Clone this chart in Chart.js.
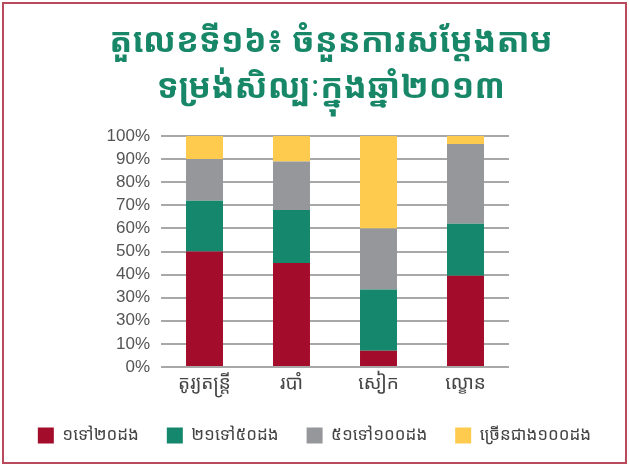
<!DOCTYPE html>
<html>
<head>
<meta charset="utf-8">
<script src="https://cdn.jsdelivr.net/npm/chart.js@4.4.0/dist/chart.umd.min.js"></script>
<style>
    html, body { margin: 0; padding: 0; background: #fff; }
    #frame {
        position: absolute; left: 2px; top: 2px;
        width: 621px; height: 458px;
        border: 2px solid #b84a5c;
    }
    #wrap { position: absolute; left: 0; top: 0; width: 621px; height: 458px; }
</style>
</head>
<body>
<div id="frame"><div id="wrap"><canvas id="chart"></canvas></div></div>
<script>
const titleLines = ['តួលេខទី១៦៖ ចំនួនការសម្តែងតាម', 'ទម្រង់សិល្បៈក្នុងឆ្នាំ២០១៣'];
const categories = ['តូរ្យតន្ត្រី', 'របាំ', 'សៀក', 'ល្ខោន'];
const seriesNames = ['១ទៅ២០ដង', '២១ទៅ៥០ដង', '៥១ទៅ១០០ដង', 'ច្រើនជាង១០០ដង'];
const series1to20 = [50, 45, 7, 39.5];
const series21to50 = [22, 23, 26.5, 22.5];
const series51to100 = [18, 21, 26.5, 34.5];
const seriesOver100 = [10, 11, 40, 3.5];
// the source chart really labels the 20% line "30%"
const tickLabels = ['0%', '10%', '30%', '30%', '40%', '50%', '60%', '70%', '80%', '90%', '100%'];
const colors = ['#a30d2b', '#14876c', '#96979a', '#fecb4f'];

const khmerFont = "'Khmer OS Battambang', 'Noto Sans Khmer', 'Noto Serif Khmer', 'Hanuman', 'Khmer OS', 'DejaVu Sans', sans-serif";

// title drawn by hand so it can sit a little right of centre like the original
const titlePlugin = {
    id: 'khmerTitle',
    afterDraw(chart) {
        const c = chart.ctx;
        c.save();
        c.fillStyle = '#178768';
        c.font = 'bold 34px ' + khmerFont;
        c.textAlign = 'center';
        c.textBaseline = 'middle';
        titleLines.forEach((line, i) => c.fillText(line, 327, 38 + i * 46));
        c.restore();
    }
};

document.addEventListener('DOMContentLoaded', function() {
    const ctx = document.getElementById('chart').getContext('2d');
    const allSeries = [series1to20, series21to50, series51to100, seriesOver100];

    new Chart(ctx, {
        type: 'bar',
        data: {
            labels: categories,
            datasets: allSeries.map((values, i) => ({
                label: seriesNames[i],
                data: values,
                backgroundColor: colors[i],
                borderWidth: 0,
                barPercentage: 0.425,
                categoryPercentage: 1.0
            }))
        },
        options: {
            responsive: true,
            maintainAspectRatio: false,
            animation: false,
            layout: { padding: { left: 0, right: 0, top: 132, bottom: 8 } },
            scales: {
                x: {
                    stacked: true,
                    grid: { display: false, drawTicks: false },
                    border: { display: false },
                    ticks: {
                        color: '#444',
                        font: { family: khmerFont, size: 19 },
                        padding: 5
                    },
                    afterFit: function(scale) { scale.height = 32; }
                },
                y: {
                    stacked: true,
                    min: 0,
                    max: 100,
                    border: { display: false },
                    grid: { color: '#a8a8a8', lineWidth: 2, drawTicks: false },
                    ticks: {
                        stepSize: 10,
                        autoSkip: false,
                        color: '#555',
                        font: { family: "'Liberation Sans', Arial, sans-serif", size: 17 },
                        padding: 11,
                        callback: function(value) {
                            return tickLabels[Math.round(value / 10)];
                        }
                    },
                    afterFit: function(scale) { scale.width = 157; }
                },
                yRight: {
                    position: 'right',
                    display: true,
                    grid: { display: false, drawTicks: false },
                    border: { display: false },
                    ticks: { display: false },
                    afterFit: function(scale) { scale.width = 116; }
                }
            },
            plugins: {
                title: { display: false },
                legend: {
                    position: 'bottom',
                    labels: {
                        boxWidth: 16,
                        boxHeight: 16,
                        padding: 28,
                        color: '#444',
                        font: { family: khmerFont, size: 17 }
                    }
                },
                tooltip: { enabled: false }
            }
        },
        plugins: [titlePlugin]
    });
});
</script>
</body>
</html>
